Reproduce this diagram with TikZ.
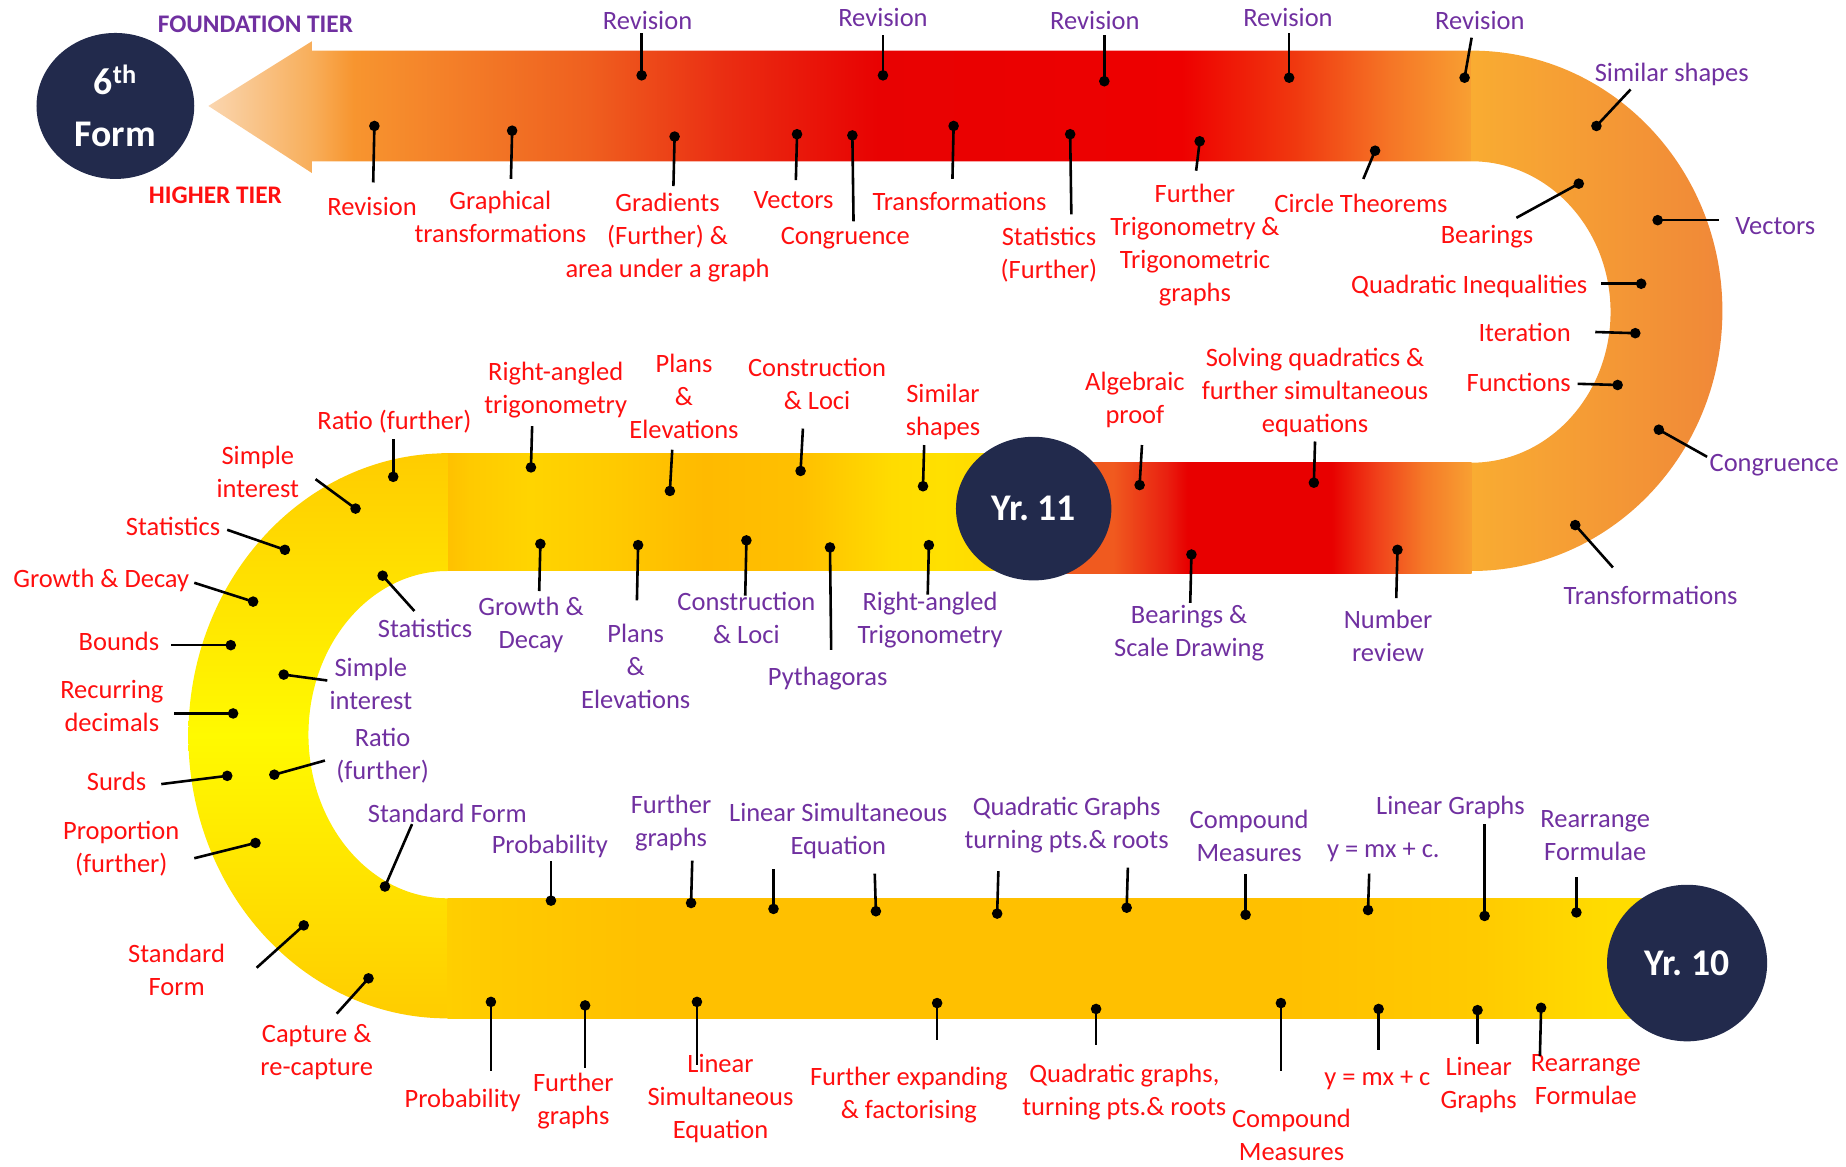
\documentclass[tikz,border=0pt]{standalone}
\usepackage{fontspec}
\setmainfont{Carlito}
\usepackage{tikz}
\usetikzlibrary{shapes.geometric}

% Colours
\definecolor{navy}{HTML}{222A4C}
\definecolor{higher}{HTML}{FF0F0F}
\definecolor{foundation}{HTML}{7030A0}
\definecolor{tA}{HTML}{FAD6B0}
\definecolor{tB}{HTML}{F8AE5A}
\definecolor{tC}{HTML}{F7952F}
\definecolor{tD}{HTML}{EF601F}
\definecolor{tE}{HTML}{EA2D12}
\definecolor{tF}{HTML}{E80202}
\definecolor{tG}{HTML}{EE0000}
\definecolor{tH}{HTML}{F0380F}
\definecolor{tI}{HTML}{F57526}
\definecolor{tJ}{HTML}{F8A032}
\definecolor{rA}{HTML}{F05A1F}
\definecolor{rB}{HTML}{E92010}
\definecolor{rC}{HTML}{E80000}
\definecolor{rD}{HTML}{F0401A}
\definecolor{rE}{HTML}{F57A28}
\definecolor{yA}{HTML}{FFBE00}
\definecolor{yB}{HTML}{FFCA00}
\definecolor{yC}{HTML}{FFD400}
\definecolor{yD}{HTML}{FFBA00}
\definecolor{yE}{HTML}{FFC000}
\definecolor{yF}{HTML}{FFDC00}
\definecolor{yG}{HTML}{FFE000}
\definecolor{yH}{HTML}{FFD800}
\definecolor{bA}{HTML}{FFCF00}
\definecolor{bB}{HTML}{FFDD00}
\definecolor{arcA}{HTML}{F9AC32}
\definecolor{arcB}{HTML}{F08838}
\definecolor{lA}{HTML}{FFCC00}
\definecolor{lB}{HTML}{FFFA00}

% Band shadings (TikZ maps 25bp..75bp onto the path)
\pgfdeclarehorizontalshading{topband}{100bp}{color(0bp)=(tA); color(25bp)=(tA); color(29.1bp)=(tB); color(30.75bp)=(tC); color(40bp)=(tD); color(45.5bp)=(tE); color(51.5bp)=(tF); color(63.5bp)=(tG); color(68bp)=(tH); color(71.75bp)=(tI); color(75bp)=(tJ); color(100bp)=(tJ)}
\pgfdeclarehorizontalshading{redband}{100bp}{color(0bp)=(rA); color(31.5bp)=(rA); color(38bp)=(rB); color(40.5bp)=(rC); color(58bp)=(rC); color(63.5bp)=(rD); color(69.3bp)=(rE); color(75bp)=(tJ); color(100bp)=(tJ)}
\pgfdeclarehorizontalshading{yellowband}{100bp}{color(0bp)=(yA); color(25bp)=(yA); color(27.5bp)=(yB); color(32.75bp)=(yC); color(40bp)=(yB); color(48bp)=(yD); color(56.5bp)=(yE); color(64.5bp)=(yF); color(68.8bp)=(yG); color(75bp)=(yH); color(100bp)=(yH)}
\pgfdeclarehorizontalshading{bottomband}{100bp}{color(0bp)=(bA); color(25bp)=(bA); color(26.9bp)=(yB); color(33bp)=(yE); color(59.5bp)=(yE); color(67bp)=(yB); color(72.5bp)=(yF); color(75bp)=(bB); color(100bp)=(bB)}

\begin{document}
\begin{tikzpicture}[x=1pt, y=-1pt, line width=2.2pt,
    topic/.style={font=\fontsize{22.5}{28}\selectfont, align=center, inner sep=0pt},
    blob/.style={circle, fill=black, inner sep=0pt, minimum size=9pt},
    tier/.style={font=\bfseries\fontsize{21.5}{26}\selectfont, inner sep=0pt},
    yearnode/.style={ellipse, fill=navy, text=white, font=\bfseries\fontsize{32}{44}\selectfont, align=center, inner sep=0pt}]
    \useasboundingbox (0,0) rectangle (1568,991);

    % Bands
    \shade[shading=topband] (265,43) -- (1250,43) -- (1250,137) -- (265,137) -- (265,147) -- (177,90) -- (265,35) -- cycle;
    \shade[left color=arcA, right color=arcB] (1250,43) arc[start angle=-90, end angle=90, x radius=213, y radius=221] -- (1250,393) arc[start angle=90, end angle=-90, x radius=118, y radius=128] -- cycle;
    \shade[shading=redband] (900,393) rectangle (1250,487);
    \shade[shading=yellowband] (375,385) rectangle (860,485);
    \shade[top color=lA, bottom color=lA, middle color=lB] (380,385) arc[start angle=-90, end angle=-270, x radius=220, y radius=240] -- (380,763) arc[start angle=90, end angle=270, x radius=118, y radius=139] -- cycle;
    \shade[shading=bottomband] (380,763) rectangle (1420,865);

    % Year circles
    \node[yearnode, minimum width=134pt, minimum height=124pt] (sixth) at (98,90) {6\textsuperscript{th}\\Form};
    \node[yearnode, minimum width=132pt, minimum height=122pt] (yr11) at (878,432) {Yr.\ 11};
    \node[yearnode, minimum width=136pt, minimum height=133pt] (yr10) at (1433,818) {Yr.\ 10};

    % Tiers
    \node[tier, text=foundation] (ftier) at (217,21) {FOUNDATION TIER};
    \node[tier, text=higher] (htier) at (183,166) {HIGHER TIER};

    % Higher tier topics
    \foreach \dx/\dy/\ex/\ey/\lx/\ly/\txt [count=\i] in {
        318/107/317/155/316/175/Revision,
        435/111/434/152/425/184/{Graphical\\transformations},
        573/116/572/158/567/202/{Gradients\\(Further) \&\\area under a graph},
        677/114/676/153/674/170/Vectors,
        724/115/725/188/718/202/Congruence,
        810/107/809/152/815/171/Transformations,
        909/114/910/182/891/216/{Statistics\\(Further)},
        1019/120/1016/145/1015/208/{Further\\Trigonometry \&\\Trigonometric\\graphs},
        1168/128/1158/152/1156/173/{Circle Theorems},
        1341/156/1288/185/1263/201/Bearings,
        1394/241/1360/241/1248/243/{Quadratic Inequalities},
        1389/283/1355/282/1295/282/Iteration,
        1374/327/1340/326/1290/325/Functions,
        968/412/970/378/964/340/{Algebraic\\proof},
        1116/410/1117/375/1117/333/{Solving quadratics \&\\further simultaneous\\equations},
        451/397/452/362/472/331/{Right-angled\\trigonometry},
        569/417/571/382/581/337/{Plans\\\&\\Elevations},
        680/400/682/364/694/326/{Construction\\\& Loci},
        784/413/785/378/801/350/{Similar\\shapes},
        334/405/334/373/335/358/{Ratio (further)},
        302/432/268/407/219/401/{Simple\\interest},
        242/467/193/450/147/447/Statistics,
        215/511/165/495/86/493/{Growth \& Decay},
        196/548/145/548/101/545/Bounds,
        198/606/148/606/95/600/{Recurring\\decimals},
        193/659/137/666/99/664/Surds,
        217/716/165/729/103/721/{Proportion\\(further)},
        258/786/218/822/150/824/{Standard\\Form},
        313/831/286/861/269/894/{Capture \&\\re-capture},
        417/851/417/910/393/935/Probability,
        497/854/497/907/487/935/{Further\\graphs},
        592/851/592/905/612/933/{Linear\\Simultaneous\\Equation},
        796/852/796/883/772/930/{Further expanding\\\& factorising},
        931/857/931/888/955/928/{Quadratic graphs,\\turning pts.\& roots},
        1088/852/1088/910/1097/964/{Compound\\Measures},
        1171/857/1171/892/1170/918/{y = mx + c},
        1255/858/1255/887/1256/922/{Linear\\Graphs},
        1309/856/1308/897/1347/917/{Rearrange\\Formulae}} {
        \node[blob] (hdot\i) at (\dx,\dy) {};
        \coordinate (hend\i) at (\ex,\ey);
        \node[topic, text=higher] (hlab\i) at (\lx,\ly) {\txt};
        \draw (hdot\i.center) -- (hend\i);
    }

    % Foundation tier topics
    \foreach \dx/\dy/\ex/\ey/\lx/\ly/\txt [count=\i] in {
        545/64/545/28/550/17/Revision,
        750/64/750/30/750/15/Revision,
        938/69/938/30/930/17/Revision,
        1095/66/1095/28/1094/15/Revision,
        1244/66/1250/32/1257/17/Revision,
        1356/107/1385/76/1420/63/{Similar shapes},
        1408/187/1460/187/1508/192/Vectors,
        1409/365/1450/388/1507/395/Congruence,
        1338/446/1370/482/1402/506/Transformations,
        1012/471/1011/512/1010/538/{Bearings \&\\Scale Drawing},
        1187/467/1186/508/1179/540/{Number\\review},
        459/462/458/502/451/531/{Growth \&\\Decay},
        542/463/541/510/540/566/{Plans\\\&\\Elevations},
        634/459/633/506/634/525/{Construction\\\& Loci},
        705/465/706/552/703/576/Pythagoras,
        789/463/788/505/790/527/{Right-angled\\Trigonometry},
        325/489/352/519/361/534/Statistics,
        241/573/278/578/315/581/{Simple\\interest},
        233/658/276/646/325/642/{Ratio\\(further)},
        327/753/350/700/380/691/{Standard Form},
        468/765/468/731/467/719/Probability,
        587/767/588/731/570/699/{Further\\graphs},
        657/772/657/738/712/706/{Linear Simultaneous\\Equation},
        847/776/848/740/906/701/{Quadratic Graphs\\turning pts.\& roots},
        1058/777/1058/742/1061/710/{Compound\\Measures},
        1162/773/1163/742/1175/724/{y = mx + c.},
        1261/778/1261/700/1232/686/{Linear Graphs},
        1339/775/1339/745/1355/710/{Rearrange\\Formulae}} {
        \node[blob] (fdot\i) at (\dx,\dy) {};
        \coordinate (fend\i) at (\ex,\ey);
        \node[topic, text=foundation] (flab\i) at (\lx,\ly) {\txt};
        \draw (fdot\i.center) -- (fend\i);
    }
    % second pins of shared labels
    \node[blob] (fdotA) at (744,774) {};
    \coordinate (fendA) at (743,742);
    \draw (fdotA.center) -- (fendA);
    \node[blob] (fdotB) at (957,771) {};
    \coordinate (fendB) at (958,737);
    \draw (fdotB.center) -- (fendB);
\end{tikzpicture}
\end{document}
